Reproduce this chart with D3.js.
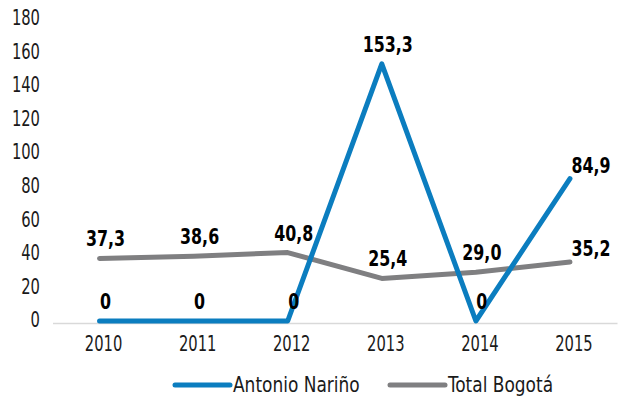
<!DOCTYPE html>
<html>
<head>
<meta charset="utf-8">
<script src="https://cdn.jsdelivr.net/npm/d3@7"></script>
<style>
body { margin: 0; background: #fff; }
text { font-family: "DejaVu Sans Condensed", "Liberation Sans Narrow", sans-serif; }
</style>
</head>
<body>
<div class="chart"></div>
<script>
var width = 626,
	height = 400;
var years = ["2010", "2011", "2012", "2013", "2014", "2015"];
var antonio = [0, 0, 0, 153.3, 0, 84.9];
var bogota = [37.3, 38.6, 40.8, 25.4, 29.0, 35.2];
var yTicks = [0, 20, 40, 60, 80, 100, 120, 140, 160, 180];
var seriesNames = ["Antonio Nariño", "Total Bogotá"];
var colors = ["#0b7dbf", "#7f7f81"];
var font = '"DejaVu Sans Condensed", sans-serif';

var svg = d3.select(".chart").append("svg").attr("width", width).attr("height", height);

var x = d3.scaleBand().domain(years).range([52.5, 617]);
var y = d3.scaleLinear().domain([0, 180]).range([321, 19]);
function cx(i){ return x(years[i]) + x.bandwidth() / 2; }

// y axis labels, no line
var yAxis = svg.append("g").attr("transform", "translate(40,-1)")
	.call(d3.axisLeft(y).tickValues(yTicks).tickSize(0).tickPadding(0));
yAxis.select(".domain").remove();
yAxis.selectAll("text").attr("font-size", 21).attr("fill", "#1a1a1a").style("font-family", font)
	.attr("transform", "scale(0.78,1)");

// x axis
var xAxis = svg.append("g").attr("transform", "translate(0,323)")
	.call(d3.axisBottom(x).tickSize(0).tickPadding(13));
xAxis.select(".domain").attr("stroke", "#d9d9d9").attr("stroke-width", 1.5);
xAxis.selectAll(".tick text").attr("font-size", 21).attr("fill", "#1a1a1a").style("font-family", font)
	.attr("transform", "translate(4,0) scale(0.78,1)");

var line = d3.line()
	.x(function(d, i){ return cx(i); })
	.y(function(d){ return y(d); });

function fmt(v){ return v === 0 ? "0" : v.toFixed(1).replace(".", ","); }

[bogota, antonio].forEach(function(data){
	var c = data === antonio ? colors[0] : colors[1];
	svg.append("path").datum(data).attr("d", line)
		.attr("fill", "none").attr("stroke", c).attr("stroke-width", 5)
		.attr("stroke-linecap", "round").attr("stroke-linejoin", "round");
});

[antonio, bogota].forEach(function(data){
	svg.append("g").selectAll("text").data(data).enter().append("text")
		.attr("transform", function(d, i){
			var last = i === years.length - 1;
			var tx = cx(i) + (last ? 21 : 6);
			var ty = y(d) - (last ? 6 : 12);
			return "translate(" + tx + "," + ty + ") scale(0.8,1)";
		})
		.attr("text-anchor", "middle")
		.attr("font-size", 22).attr("font-weight", "bold").attr("fill", "#000")
		.text(fmt);
});

// legend
var legend = svg.append("g");
var legX = [175, 390];
seriesNames.forEach(function(name, i){
	legend.append("line").attr("x1", legX[i]).attr("x2", legX[i] + 55)
		.attr("y1", 385).attr("y2", 385)
		.attr("stroke", colors[i]).attr("stroke-width", 5).attr("stroke-linecap", "round");
	legend.append("text").attr("transform", "translate(" + (legX[i] + 58) + ",392) scale(0.9,1)")
		.attr("font-size", 21).attr("fill", "#1a1a1a").text(name);
});
</script>
</body>
</html>
